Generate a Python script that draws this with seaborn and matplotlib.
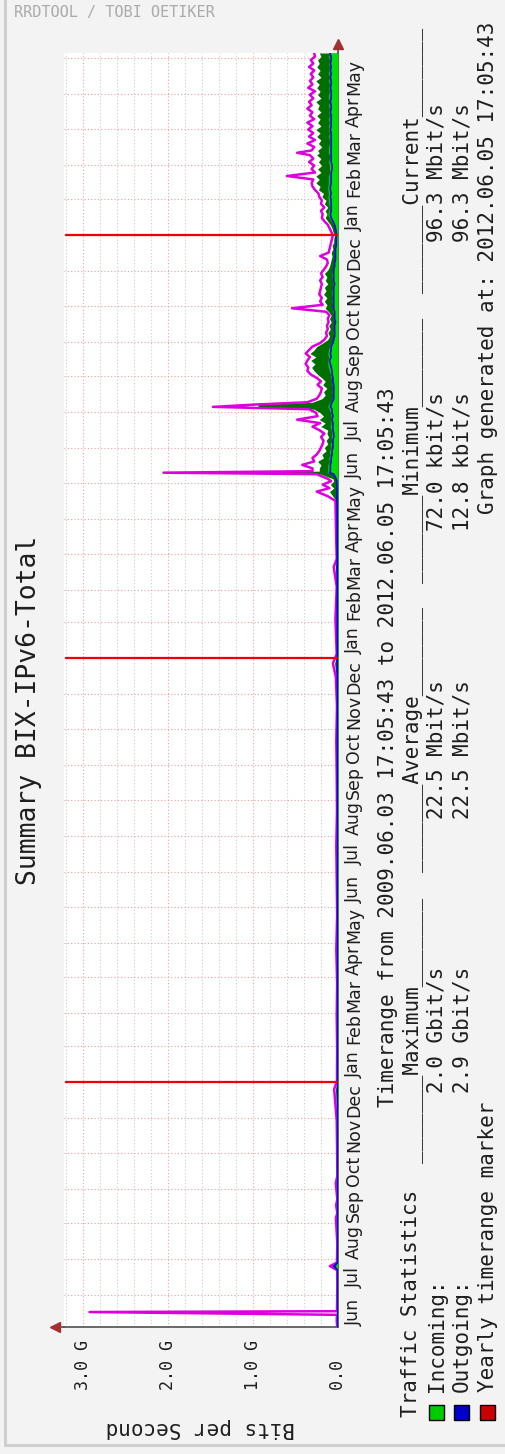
import numpy as np
import pandas as pd
import matplotlib
matplotlib.use("Agg")
import matplotlib.pyplot as plt
import seaborn as sns
from matplotlib import transforms
from matplotlib.patches import Rectangle
from matplotlib.lines import Line2D

sns.set_style("white")
plt.rcParams["font.family"] = "DejaVu Sans Mono"

# time range of the graph
t_start = pd.Timestamp("2009-06-03 17:05:43")
t_end = pd.Timestamp("2012-06-05 17:05:43")
span = (t_end - t_start) / pd.Timedelta(days=1)

# day offsets from t_start and traffic in Gbit/s
days = [0, 6, 10.5, 12.9, 13.6, 22, 36, 49, 52.5, 55.5, 72, 94, 98, 105, 110, 124, 130, 150,
        178, 205, 212, 240, 268, 296, 325, 355, 385, 415, 445, 475, 505, 535, 560, 572, 580,
        610, 638, 655, 662, 675, 695, 712, 716, 720, 723, 726, 729, 731, 735, 736.3, 737.6,
        740, 743, 746, 749, 752, 755, 758, 761, 764, 767, 770, 773, 776, 779, 782, 785, 788,
        791, 793, 795, 797,
        800, 803, 806, 809, 812, 815, 818, 821, 824, 827, 830, 833, 836, 839, 842, 845, 848,
        851, 854, 857, 860, 863, 866, 869, 872, 875, 878, 881, 884, 887, 890, 893, 896, 899,
        902, 905, 908, 911, 914, 917, 920, 923, 926, 929, 932, 935, 938, 941, 944, 947, 950,
        953, 956, 959, 962, 965, 968, 971, 974, 977, 980, 983, 986, 989, 992, 995, 998, 1001,
        1004, 1007, 1010, 1012, 1014, 1017, 1020, 1023, 1026, 1029, 1032, 1035, 1038, 1041,
        1044, 1047, 1050, 1053, 1056, 1059, 1062, 1065, 1068, 1071, 1074, 1077, 1080, 1083,
        1086, 1089, 1092, 1095, 1098]
incoming_avg = [.003, .003, .003, .004, .003, .003, .003, .003, .03, .004, .003, .004, .003, .004,
                .003, .004, .003, .003, .004, .005, .004, .004, .005, .004, .005, .005, .006, .005,
                .006, .006, .007, .006, .007, .009, .007, .009, .008, .011, .009, .009, .009, .011,
                .012, .013, .013, .014, .015, .02, .06, .13, .12,
                .12, .12, .10, .11, .09, .10, .08, .09, .07, .08, .07, .08, .09, .08, .09, .08, .09,
                .10, .12, .11, .09,
                .07, .06, .07, .06, .07, .07, .08, .09, .10, .11, .12, .12, .11, .12, .11, .10, .08,
                .06, .05, .06, .05, .05, .04, .05, .05, .06, .06, .06, .07, .06, .07, .07, .06, .06,
                .06, .07, .07, .06, .05, .05, .04, .04, .04, .03, .03, .03, .02, .02, .03, .04, .05,
                .08, .10, .12, .11, .10, .11, .11, .12, .11, .12, .12, .11, .11, .11, .10, .10, .10,
                .11, .10, .10, .11, .11, .11, .10, .10, .11, .10, .11, .11, .10, .11, .10, .11, .10,
                .11, .10, .11, .11, .10, .11, .10, .11, .10, .11, .11, .10, .11, .10, .11, .10]
outgoing_avg = [.003, .003, .003, .004, .003, .003, .003, .003, .05, .004, .003, .004, .003, .004,
                .003, .004, .003, .003, .004, .005, .004, .004, .005, .004, .005, .005, .006, .005,
                .006, .006, .007, .006, .007, .009, .007, .009, .008, .011, .009, .009, .009, .011,
                .012, .013, .013, .014, .015, .02, .05, .10, .09,
                .09, .09, .08, .08, .07, .07, .06, .06, .06, .05, .05, .06, .06, .06, .07, .06, .07,
                .07, .09, .08, .07,
                .05, .05, .05, .05, .05, .06, .06, .07, .07, .08, .09, .10, .08, .09, .08, .08, .06,
                .05, .04, .04, .04, .04, .03, .04, .04, .04, .05, .05, .05, .05, .05, .05, .05, .04,
                .05, .05, .05, .05, .04, .04, .03, .03, .03, .03, .02, .02, .02, .02, .02, .03, .04,
                .06, .08, .09, .08, .08, .08, .08, .09, .08, .09, .09, .08, .08, .08, .08, .07, .07,
                .08, .08, .08, .08, .08, .08, .08, .08, .08, .08, .09, .08, .08, .08, .08, .09, .08,
                .08, .09, .08, .08, .08, .09, .08, .08, .09, .08, .09, .08, .09, .08, .08, .096]
incoming_max = [.008, .012, .01, .02, .01, .008, .006, .008, .08, .01, .006, .02, .006, .018, .006,
                .022, .006, .008, .012, .03, .01, .008, .012, .008, .015, .008, .012, .015, .01,
                .012, .015, .01, .02, .04, .012, .02, .012, .03, .012, .015, .02, .025, .06, .10,
                .05, .09, .05, .06, .20, 1.90, .22,
                .22, .20, .24, .17, .19, .14, .16, .12, .14, .11, .13, .12, .20, .15, .22, .17, .21,
                .28, .94, .94, .30,
                .19, .15, .17, .13, .18, .15, .19, .24, .28, .31, .27, .32, .26, .33, .28, .25, .18,
                .12, .10, .12, .09, .11, .08, .10, .08, .11, .15, .13, .16, .13, .17, .14, .16, .12,
                .15, .13, .16, .12, .10, .09, .08, .07, .08, .06, .07, .05, .05, .04, .06, .07, .09,
                .12, .15, .13, .15, .12, .16, .14, .19, .17, .23, .21, .26, .22, .26, .20, .24, .19,
                .23, .20, .25, .22, .24, .19, .23, .20, .25, .21, .26, .20, .24, .21, .25, .20, .24,
                .22, .26, .20, .24, .21, .25, .22, .26, .20, .24, .21, .25, .22, .24, .20, .22]
outgoing_max = [.01, .015, .012, 2.92, .012, .01, .008, .01, .095, .012, .008, .025, .008, .022,
                .008, .026, .008, .01, .015, .045, .012, .01, .015, .01, .02, .01, .015, .02, .012,
                .015, .02, .012, .025, .06, .015, .03, .015, .05, .015, .02, .025, .03, .12, .25,
                .10, .18, .08, .12, .25, 2.05, .30,
                .30, .42, .28, .30, .25, .22, .20, .18, .17, .20, .16, .22, .30, .21, .48, .24, .26,
                .34, 1.47, .98, .36,
                .25, .22, .20, .19, .24, .20, .25, .32, .36, .35, .38, .36, .33, .38, .34, .30, .21,
                .16, .13, .14, .12, .13, .11, .12, .10, .14, .54, .18, .21, .19, .22, .21, .20, .19,
                .21, .18, .20, .17, .14, .12, .13, .21, .11, .10, .09, .08, .07, .06, .08, .10, .12,
                .16, .19, .18, .20, .16, .20, .19, .22, .23, .27, .30, .31, .29, .60, .27, .31, .28,
                .34, .29, .33, .48, .31, .28, .36, .27, .34, .29, .35, .30, .36, .28, .33, .30, .36,
                .31, .34, .29, .33, .27, .35, .30, .33, .29, .32, .28, .34, .29, .32, .27, .28]

value_ticks = [0, 1, 2, 3]
value_labels = ["0.0  ", "1.0 G", "2.0 G", "3.0 G"]
month_starts = pd.date_range("2009-06-01", "2012-06-01", freq="MS")
year_marks = pd.to_datetime(["2010-01-01", "2011-01-01", "2012-01-01"])

stat_headers = ["Maximum", "Average", "Minimum", "Current"]
incoming_stats = ["2.0 Gbit/s", "22.5 Mbit/s", "72.0 kbit/s", "96.3 Mbit/s"]
outgoing_stats = ["2.9 Gbit/s", "22.5 Mbit/s", "12.8 kbit/s", "96.3 Mbit/s"]

W, H = 505, 1454
def fx(px):
    return px / W
def fy(py):
    return 1 - py / H

def to_day(ts):
    return (ts - t_start) / pd.Timedelta(days=1)

fig = plt.figure(figsize=(W / 100, H / 100), dpi=100, facecolor="#f3f3f3")
ax = fig.add_axes([fx(64), fy(1327), 274 / W, 1274 / H])
ax.set_facecolor("white")
vmax = 3.22
ax.set_xlim(vmax, 0)
ax.set_ylim(0, span)

# grid
for v in np.arange(0.2, vmax, 0.2):
    if abs(v - round(v)) > 0.01:
        ax.axvline(v, color="#cccccc", lw=0.8, ls=(0, (1, 2)), zorder=0)
for v in value_ticks[1:]:
    ax.axvline(v, color="#f0a0a0", lw=0.8, ls=(0, (1, 2)), zorder=0)
for m in month_starts:
    d = to_day(m)
    if 0 < d < span:
        ax.axhline(d, color="#f0a0a0", lw=0.8, ls=(0, (1, 2)), zorder=0)

# traffic
ax.fill_betweenx(days, 0, incoming_max, color="#006f00", lw=0, zorder=2)
sns.lineplot(x=outgoing_max, y=days, orient="y", sort=False, estimator=None,
             color="#dd00dd", lw=1.8, ax=ax, zorder=3)
ax.fill_betweenx(days, 0, incoming_avg, color="#00e000", lw=0, zorder=4)
sns.lineplot(x=outgoing_avg, y=days, orient="y", sort=False, estimator=None,
             color="#0000ee", lw=1.2, ax=ax, zorder=5)

# yearly timerange markers
for ym in year_marks:
    ax.plot([0, 3.2], [to_day(ym)] * 2, color="#ee0000", lw=1.6, zorder=6)

# axes with arrows
for s in ["top", "left"]:
    ax.spines[s].set_visible(False)
for s in ["right", "bottom"]:
    ax.spines[s].set_color("#505050")
    ax.spines[s].set_linewidth(1.2)
ax.plot([0, 0], [span, span + 6], color="#505050", lw=1.2, clip_on=False)
ax.plot([vmax, vmax + 0.08], [0, 0], color="#505050", lw=1.2, clip_on=False)
ax.plot(0, span + 8, marker="^", color="#a33030", ms=7, clip_on=False)
ax.plot(vmax + 0.11, 0, marker="<", color="#a33030", ms=7, clip_on=False)
ax.set_xticks([])
ax.set_yticks([])
ax.set_xlabel("")
ax.set_ylabel("")

txt = "#1e1e1e"
tr_v = transforms.blended_transform_factory(ax.transData, fig.transFigure)
for v, lab in zip(value_ticks, value_labels):
    ax.text(v, fy(1390), lab, rotation=90, ha="center", va="bottom", fontsize=12,
            color=txt, transform=tr_v)

tr_t = transforms.blended_transform_factory(fig.transFigure, ax.transData)
for m in month_starts[:-1]:
    d = to_day(m + pd.Timedelta(days=15))
    ax.text(fx(354), d, m.strftime("%b"), rotation=90, ha="center", va="center",
            fontsize=12.5, family="DejaVu Sans", color=txt, transform=tr_t)

# titles
fig.text(fx(14), fy(12), "RRDTOOL / TOBI OETIKER", ha="left", va="center", fontsize=11,
         color="#aaaaaa")
fig.text(fx(29), fy(710), "Summary BIX-IPv6-Total", rotation=90, ha="center", va="center",
         fontsize=19, color=txt)
fig.text(fx(200), fy(1428), "Bits per Second", rotation=180, ha="center", va="center",
         fontsize=15, color=txt)
fig.text(fx(388), fy(747), "Timerange from 2009.06.03 17:05:43 to 2012.06.05 17:05:43",
         rotation=90, ha="center", va="center", fontsize=15, color=txt)

# legend / statistics
fig.text(fx(411), fy(1417), "Traffic Statistics", rotation=90, ha="center", va="bottom",
         fontsize=15, color=txt)
for hdr, y0 in zip(stat_headers, [1163, 872, 583, 293]):
    fig.text(fx(413), fy(y0), "_______" + hdr + "_______", rotation=90, ha="center",
             va="bottom", fontsize=15, color=txt)
rows = [("Incoming:", "#00cc00", incoming_stats, 437),
        ("Outgoing:", "#0000cc", outgoing_stats, 462),
        ("Yearly timerange marker", "#cc0000", None, 488)]
for lab, col, vals, xc in rows:
    fig.add_artist(Rectangle((fx(xc - 8), fy(1420)), 15 / W, 15 / H, facecolor=col,
                             edgecolor="black", lw=1, transform=fig.transFigure))
    fig.text(fx(xc), fy(1392), lab, rotation=90, ha="center", va="bottom", fontsize=15,
             color=txt)
    if vals:
        for val, y1 in zip(vals, [967, 680, 392, 103]):
            fig.text(fx(xc), fy(y1), val, rotation=90, ha="center", va="top", fontsize=15,
                     color=txt)
fig.text(fx(488), fy(22), "Graph generated at: 2012.06.05 17:05:43", rotation=90,
         ha="center", va="top", fontsize=15, color=txt)

# frame
fig.add_artist(Line2D([fx(4.5), fx(4.5)], [fy(1445), 1], color="#cfcfcf", lw=2.2,
                      transform=fig.transFigure))
fig.add_artist(Line2D([fx(4.5), 1], [fy(1445), fy(1445)], color="#cfcfcf", lw=2.2,
                      transform=fig.transFigure))

fig.savefig("out.png", dpi=100, facecolor=fig.get_facecolor())
